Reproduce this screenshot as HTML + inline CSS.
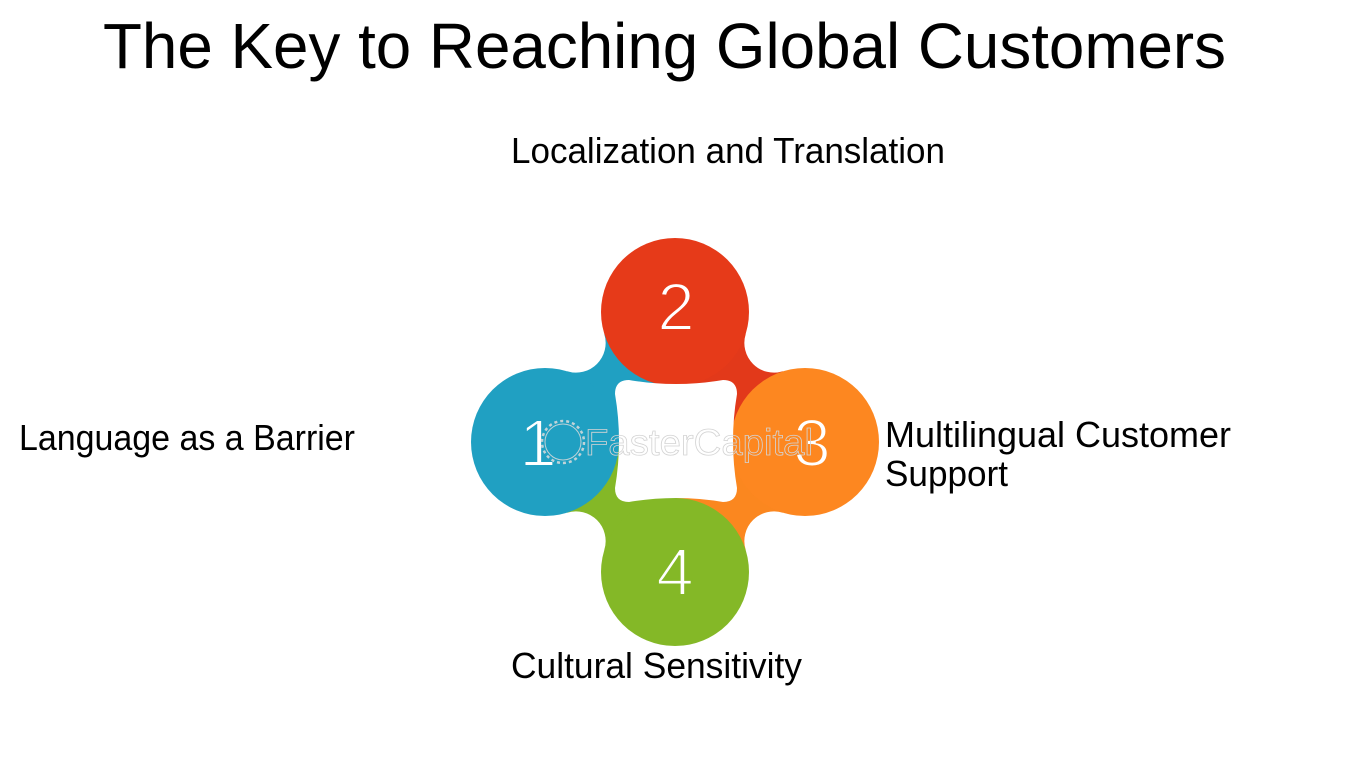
<!DOCTYPE html>
<html>
<head>
<meta charset="utf-8">
<style>
  html,body{margin:0;padding:0;background:#fff;}
  body{width:1350px;height:759px;overflow:hidden;}
  svg{display:block;}
  .lbl{font-family:"Liberation Sans",Arial,sans-serif;font-size:36px;fill:#000;}
  .num{font-family:"Liberation Sans",Arial,sans-serif;font-size:67px;fill:#fff;text-anchor:middle;stroke-width:2;}
</style>
</head>
<body>
<svg width="1350" height="759" viewBox="0 0 1350 759" xmlns="http://www.w3.org/2000/svg">
  <rect width="1350" height="759" fill="#fff"/>

  <!-- Title -->
  <text x="103" y="68" font-family="'Liberation Sans', Arial, sans-serif" font-size="64" fill="#000" textLength="1123" lengthAdjust="spacingAndGlyphs">The Key to Reaching Global Customers</text>

  <!-- Tails -->
  <path d="M545,442 L567.1,371.3 A29.7,29.7 0 0 0 604.3,334.1 L675,312 L675,442 Z" fill="#20a0c2"/>
  <path d="M675,312 L745.7,334.1 A29.7,29.7 0 0 0 782.9,371.3 L805,442 L675,442 Z" fill="#e2391a"/>
  <path d="M805,442 L782.9,512.7 A29.7,29.7 0 0 0 745.7,549.9 L675,572 L675,442 Z" fill="#fb871f"/>
  <path d="M675,572 L604.3,549.9 A29.7,29.7 0 0 0 567.1,512.7 L545,442 L675,442 Z" fill="#84b827"/>

  <!-- Circles -->
  <circle cx="545" cy="442" r="74" fill="#20a0c2"/>
  <circle cx="675" cy="312" r="74" fill="#e63a19"/>
  <circle cx="805" cy="442" r="74" fill="#fd8720"/>
  <circle cx="675" cy="572" r="74" fill="#84b827"/>

  <!-- Center hole -->
  <path d="M629,380 Q676,388 723,380 Q737,380 737,394 Q729,441 737,488 Q737,502 723,502 Q676,494 629,502 Q615,502 615,488 Q623,441 615,394 Q615,380 629,380 Z" fill="#fff"/>

  <!-- Numbers (thinned with stroke in circle colour) -->
  <text class="num" x="538" y="466" stroke="#20a0c2">1</text>
  <text class="num" x="676" y="330" stroke="#e63a19">2</text>
  <text class="num" x="812" y="466" stroke="#fd8720">3</text>
  <text class="num" x="675" y="595" stroke="#84b827">4</text>

  <!-- Watermark -->
  <g fill="none" stroke="#dcdcdc" stroke-width="1" opacity="0.85">
    <circle cx="563" cy="442" r="18"/>
    <circle cx="563" cy="442" r="21" stroke-dasharray="3 3" stroke-width="2.5"/>
  </g>
  <text x="585" y="455" font-family="'Liberation Sans', Arial, sans-serif" font-size="37" fill="none" stroke="#d4d4d4" stroke-width="0.8" textLength="228" lengthAdjust="spacingAndGlyphs">FasterCapital</text>

  <!-- Labels -->
  <text class="lbl" x="511" y="163" textLength="434" lengthAdjust="spacingAndGlyphs">Localization and Translation</text>
  <text class="lbl" x="19" y="450" textLength="336" lengthAdjust="spacingAndGlyphs">Language as a Barrier</text>
  <text class="lbl" x="885" y="447" textLength="346" lengthAdjust="spacingAndGlyphs">Multilingual Customer</text>
  <text class="lbl" x="885" y="486" textLength="123" lengthAdjust="spacingAndGlyphs">Support</text>
  <text class="lbl" x="511" y="678" textLength="291" lengthAdjust="spacingAndGlyphs">Cultural Sensitivity</text>
</svg>
</body>
</html>
